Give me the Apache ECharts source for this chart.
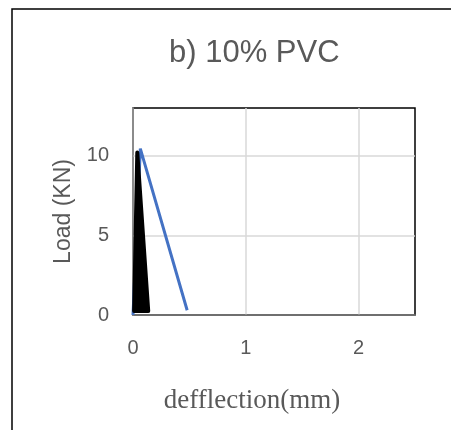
<!DOCTYPE html>
<html>
<head>
<meta charset="utf-8">
<script src="https://cdn.jsdelivr.net/npm/echarts@6/dist/echarts.min.js"></script>
<style>
  html, body { margin: 0; padding: 0; background: #fff; }
  #main { width: 451px; height: 430px; }
</style>
</head>
<body>
<div id="main"></div>
<script>
// data
var blueX = [0, 0.065, 0.48];
var blueY = [0, 10.45, 0.3];
// black filled wedge (outline vertices)
var blackX = [0.01, 0.038, 0.135];
var blackY = [0.25, 10.2, 0.25];
var xTicks = [0, 1, 2];
var yTicks = [0, 5, 10];

function pairs(xs, ys) {
	var out = [];
	for (var i = 0; i < xs.length; i++) out.push([xs[i], ys[i]]);
	return out;
}

var chart = echarts.init(document.getElementById('main'));
var textColor = '#595959';

var option = {
	backgroundColor: '#fff',
	animation: false,
	title: {
		text: 'b) 10% PVC',
		left: 164,
		top: 33,
		textStyle: { fontFamily: 'Liberation Sans', fontSize: 31, fontWeight: 'normal', color: textColor }
	},
	graphic: [{
		type: 'rect',
		shape: { x: 12, y: 9, width: 460, height: 440 },
		style: { fill: 'none', stroke: '#000', lineWidth: 1.5 },
		z: -1
	}],
	grid: {
		left: 133, right: 36, top: 108, bottom: 115,
		show: true, borderColor: '#000', borderWidth: 1.5
	},
	xAxis: {
		type: 'value', min: 0, max: 2.5, interval: 1,
		name: 'defflection(mm)', nameLocation: 'middle', nameGap: 72,
		nameTextStyle: { fontFamily: 'Liberation Serif', fontSize: 27, color: textColor, padding: [0, 44, 0, 0] },
		axisLine: { show: true, lineStyle: { color: '#808080', width: 1.5 } },
		axisTick: { show: false },
		axisLabel: {
			margin: 23, fontFamily: 'Liberation Sans', fontSize: 20, color: textColor,
			showMaxLabel: false,
			formatter: function (v) { return xTicks.indexOf(v) >= 0 ? String(v) : ''; }
		},
		splitLine: { show: true, showMinLine: false, showMaxLine: false, lineStyle: { color: '#d9d9d9', width: 1.5 } }
	},
	yAxis: {
		type: 'value', min: 0, max: 13, interval: 5,
		name: 'Load (KN)', nameLocation: 'middle', nameGap: 58, nameRotate: 90,
		nameTextStyle: { fontFamily: 'Liberation Sans', fontSize: 23, color: textColor },
		axisLine: { show: true, lineStyle: { color: '#a6a6a6', width: 1.5 } },
		axisTick: { show: false },
		axisLabel: {
			margin: 24, fontFamily: 'Liberation Sans', fontSize: 20, color: textColor,
			showMaxLabel: false,
			formatter: function (v) { return yTicks.indexOf(v) >= 0 ? String(v) : ''; }
		},
		splitLine: { show: true, showMinLine: false, showMaxLine: false, lineStyle: { color: '#d9d9d9', width: 1.5 } }
	},
	series: [{
		type: 'line',
		data: pairs(blueX, blueY),
		symbol: 'none',
		lineStyle: { color: '#4472c4', width: 3 },
		z: 2
	}, {
		type: 'custom',
		data: pairs(blackX, blackY),
		renderItem: function (params, api) {
			if (params.dataIndex !== 0) return;
			var pts = pairs(blackX, blackY).map(function (p) { return api.coord(p); });
			return {
				type: 'polygon',
				shape: { points: pts },
				style: { fill: '#000', stroke: '#000', lineWidth: 4, lineJoin: 'round' }
			};
		},
		z: 3
	}]
};
chart.setOption(option);
</script>
</body>
</html>
